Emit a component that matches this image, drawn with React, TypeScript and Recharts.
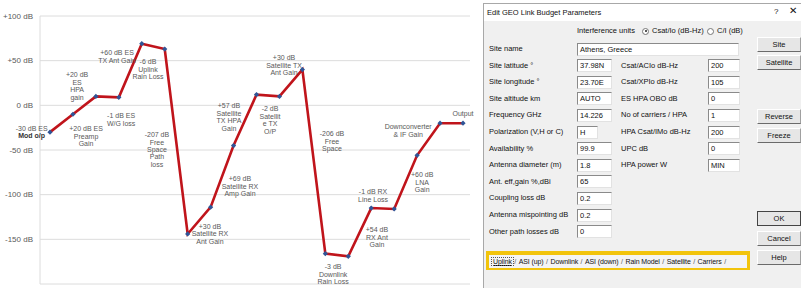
import { LineChart, Line, XAxis, YAxis, CartesianGrid, ReferenceDot } from "recharts"

// link budget stages, in signal order
const stages = [
  "Mod o/p", "Preamp", "ES HPA", "W/G", "ES TX Ant", "Uplink Rain", "Uplink FSPL",
  "Sat RX Ant", "Sat RX Amp", "Sat TX HPA", "Sat TX O/P", "Sat TX Ant", "Downlink FSPL",
  "Downlink Rain", "RX Ant", "RX Line", "LNA", "Downconverter", "Output",
]
const levels = [-30, -10, 10, 9, 69, 63, -144, -114, -45, 12, 10, 40, -166, -169, -115, -116, -56, -20, -20]
const yTicks = [-200, -150, -100, -50, 0, 50, 100]

// annotation text, anchored in data space (stage index, dB)
const notes = [
  { lines: ["-30 dB ES", "Mod o/p"], x: -0.8, y: -30, bold: true },
  { lines: ["+20 dB", "ES", "HPA", "gain"], x: 1.18, y: 21.6 },
  { lines: ["+20 dB ES", "Preamp", "Gain"], x: 1.57, y: -34.4 },
  { lines: ["+60 dB ES", "TX Ant Gain"], x: 2.92, y: 54.6 },
  { lines: ["-1 dB ES", "W/G loss"], x: 3.1, y: -15.9 },
  { lines: ["-6 dB", "Uplink", "Rain Loss"], x: 4.27, y: 40.6 },
  { lines: ["-207 dB", "Free", "Space", "Path", "loss"], x: 4.66, y: -49.5 },
  { lines: ["+57 dB", "Satellite", "TX HPA", "Gain"], x: 7.8, y: -13.1 },
  { lines: ["+69 dB", "Satellite RX", "Amp Gain"], x: 8.28, y: -90.4 },
  { lines: ["+30 dB", "Satellite RX", "Ant Gain"], x: 6.97, y: -144 },
  { lines: ["-2 dB", "Satellit", "e TX", "O/P"], x: 9.59, y: -16.5 },
  { lines: ["+30 dB", "Satellite TX", "Ant Gain"], x: 10.2, y: 45.1 },
  { lines: ["-206 dB", "Free", "Space"], x: 12.29, y: -40 },
  { lines: ["-1 dB RX", "Line Loss"], x: 14.08, y: -101 },
  { lines: ["+54 dB", "RX Ant", "Gain"], x: 14.25, y: -147.5 },
  { lines: ["-3 dB", "Downlink", "Rain Loss"], x: 12.34, y: -189 },
  { lines: ["+60 dB", "LNA", "Gain"], x: 16.22, y: -86 },
  { lines: ["Downconverter", "& IF Gain"], x: 15.61, y: -28.2 },
  { lines: ["Output"], x: 18.0, y: -8.7 },
]

// dialog form contents
const leftLabels = [
  "Site name", "Site latitude °", "Site longitude °", "Site altitude km", "Frequency GHz",
  "Polarization (V,H or C)", "Availability %", "Antenna diameter (m)", "Ant. eff,gain  %,dBi",
  "Coupling loss dB", "Antenna mispointing dB", "Other path losses dB",
]
const leftValues = ["Athens, Greece", "37.98N", "23.70E", "AUTO", "14.226", "H", "99.9", "1.8", "65", "0.2", "0.2", "0"]
const rightLabels = ["Csat/ACIo dB-Hz", "Csat/XPIo dB-Hz", "ES HPA OBO dB", "No of carriers / HPA", "HPA Csat/IMo dB-Hz", "UPC dB", "HPA power W"]
const rightValues = ["200", "105", "0", "1", "200", "0", "MIN"]
const buttons = [
  { text: "Site", y: 44 }, { text: "Satellite", y: 62 }, { text: "Reverse", y: 116 },
  { text: "Freeze", y: 135 }, { text: "OK", y: 218, def: true }, { text: "Cancel", y: 238 }, { text: "Help", y: 257 },
]
const tabs = ["Uplink", "ASI (up)", "Downlink", "ASI (down)", "Rain Model", "Satellite", "Carriers"]

const chartData = stages.map((name, i) => ({ idx: i, name, level: levels[i] }))

const FONT = "'Liberation Sans', Arial, sans-serif"
const NOTE_COLOR = "#595959"

function Diamond(props: any) {
  const { cx, cy, index } = props
  if (cx == null || cy == null) return null
  return <path key={`d${index}`} d={`M${cx},${cy - 2.6}L${cx + 2.6},${cy}L${cx},${cy + 2.6}L${cx - 2.6},${cy}Z`} fill="#2f5597" />
}

function YTick(props: any) {
  const { x, y, payload } = props
  const v = payload.value
  return (
    <text x={x} y={y} textAnchor="end" dominantBaseline="central" fontFamily={FONT} fontSize={8} fill={NOTE_COLOR}>
      {v > 0 ? `+${v} dB` : `${v} dB`}
    </text>
  )
}

function NoteText({ cx, cy, lines, bold }: { cx: number; cy: number; lines: string[]; bold?: boolean }) {
  const lh = 7.4
  const y0 = cy - ((lines.length - 1) * lh) / 2
  return (
    <text x={cx} textAnchor="middle" fontFamily={FONT} fontSize={7} fill={NOTE_COLOR} stroke="none">
      {lines.map((l, i) => (
        <tspan key={i} x={cx} y={y0 + i * lh} dominantBaseline="central" fontWeight={bold && i === 1 ? 700 : 400} fill={bold && i === 1 ? "#333" : NOTE_COLOR}>
          {l}
        </tspan>
      ))}
    </text>
  )
}

function LinkChart() {
  return (
    <LineChart width={480} height={288} data={chartData} margin={{ top: 16, right: 10, bottom: 4, left: 0 }}>
      <CartesianGrid vertical={false} stroke="#dcdcdc" />
      <XAxis dataKey="idx" type="number" domain={[-0.436, 18.305]} allowDataOverflow hide />
      <YAxis
        type="number"
        domain={[-200, 100]}
        ticks={yTicks}
        width={40}
        tickLine={false}
        tickSize={5}
        tickMargin={2}
        axisLine={{ stroke: "#dcdcdc" }}
        tick={YTick}
      />
      <Line
        type="linear"
        dataKey="level"
        stroke="#c0141b"
        strokeWidth={2.6}
        dot={Diamond}
        activeDot={false}
        isAnimationActive={false}
      />
      {notes.map((n, i) => (
        <ReferenceDot
          key={i}
          x={n.x}
          y={n.y}
          r={0}
          ifOverflow="visible"
          shape={(p: any) => <NoteText cx={p.cx} cy={p.cy} lines={n.lines} bold={n.bold} />}
        />
      ))}
    </LineChart>
  )
}

const abs = (left: number, top: number, extra: any = {}) => ({ position: "absolute" as const, left, top, ...extra })
const rowY = (i: number) => 49 + i * 16.6

function Field({ x, y, w, value }: { x: number; y: number; w: number; value: string }) {
  return (
    <div
      style={abs(x, y - 6.5, {
        width: w, height: 13, background: "#fff", boxSizing: "border-box",
        borderTop: "1px solid #8a8a8a", borderLeft: "1px solid #8a8a8a",
        borderBottom: "1px solid #e2e2e2", borderRight: "1px solid #e2e2e2",
        fontSize: 7.5, lineHeight: "11px", paddingLeft: 2, whiteSpace: "nowrap", overflow: "hidden",
      })}
    >
      {value}
    </div>
  )
}

function Label({ x, y, text }: { x: number; y: number; text: string }) {
  return <div style={abs(x, y - 5, { fontSize: 7.5, lineHeight: "10px", whiteSpace: "nowrap" })}>{text}</div>
}

function Radio({ x, y, on }: { x: number; y: number; on?: boolean }) {
  return (
    <div style={abs(x, y - 3.5, { width: 7, height: 7, borderRadius: 4, border: "1px solid #777", background: "#fff", boxSizing: "border-box" })}>
      {on && <div style={abs(1.5, 1.5, { width: 2, height: 2, borderRadius: 1, background: "#222" })} />}
    </div>
  )
}

function Dialog() {
  return (
    <div style={abs(483, 3, { width: 330, height: 290, background: "#f0f0f0", border: "1px solid #a8a8a8", boxSizing: "border-box", fontFamily: FONT, color: "#111" })}>
      {/* children use page coordinates, so shift back by the dialog origin */}
      <div style={abs(-484, -4)}>
        <div style={abs(484, 4, { width: 330, height: 17, background: "#fff" })} />
        <Label x={487} y={13} text="Edit GEO Link Budget Parameters" />
        <div style={abs(774, 7, { fontSize: 8 })}>?</div>
        <div style={abs(789, 5, { fontSize: 10 })}>✕</div>

        <Label x={577} y={31} text="Interference units" />
        <Radio x={642} y={31} on />
        <Label x={652} y={31} text="Csat/Io (dB-Hz)" />
        <Radio x={707} y={31} />
        <Label x={717} y={31} text="C/I (dB)" />

        {leftLabels.map((t, i) => (
          <Label key={t} x={489} y={rowY(i)} text={t} />
        ))}
        {leftValues.map((v, i) => (
          <Field key={i} x={577} y={rowY(i)} w={i === 0 ? 162 : i === 5 ? 21 : 35} value={v} />
        ))}
        {rightLabels.map((t, i) => (
          <Label key={t} x={621} y={rowY(i + 1)} text={t} />
        ))}
        {rightValues.map((v, i) => (
          <Field key={i} x={708} y={rowY(i + 1)} w={32} value={v} />
        ))}

        {buttons.map((b) => (
          <div
            key={b.text}
            style={abs(757, b.y - 7.5, {
              width: 44, height: 15, boxSizing: "border-box", background: "#e6e6e6",
              borderTop: b.def ? "1px solid #444" : "1px solid #fff",
              borderLeft: b.def ? "1px solid #444" : "1px solid #fff",
              borderBottom: b.def ? "1px solid #444" : "1px solid #6a6a6a",
              borderRight: b.def ? "1px solid #444" : "1px solid #a0a0a0",
              fontSize: 7.5, lineHeight: "13px", textAlign: "center",
            })}
          >
            {b.text}
          </div>
        ))}

        <div style={abs(486, 251, { width: 264, height: 19, background: "#f2c40c" })} />
        <div style={abs(489, 255, { width: 258, height: 13, background: "#f4f4f4", display: "flex", alignItems: "center", fontSize: 7, letterSpacing: -0.1, whiteSpace: "nowrap" })}>
          {tabs.map((t, i) => (
            <span key={t} style={{ display: "flex", alignItems: "center" }}>
              <span style={i === 0 ? { outline: "1px dotted #555", textDecoration: "underline", padding: "0 1px", marginLeft: 3 } : { padding: "0 1px" }}>{t}</span>
              <span style={{ padding: "0 1.5px", color: "#555" }}>/</span>
            </span>
          ))}
        </div>
      </div>
    </div>
  )
}

export default function App() {
  return (
    <div style={{ position: "relative", width: 801, height: 288, overflow: "hidden", background: "#fff" }}>
      <style>{`body{margin:0}`}</style>
      <div style={abs(0, 0)}>
        <LinkChart />
      </div>
      <Dialog />
    </div>
  )
}
